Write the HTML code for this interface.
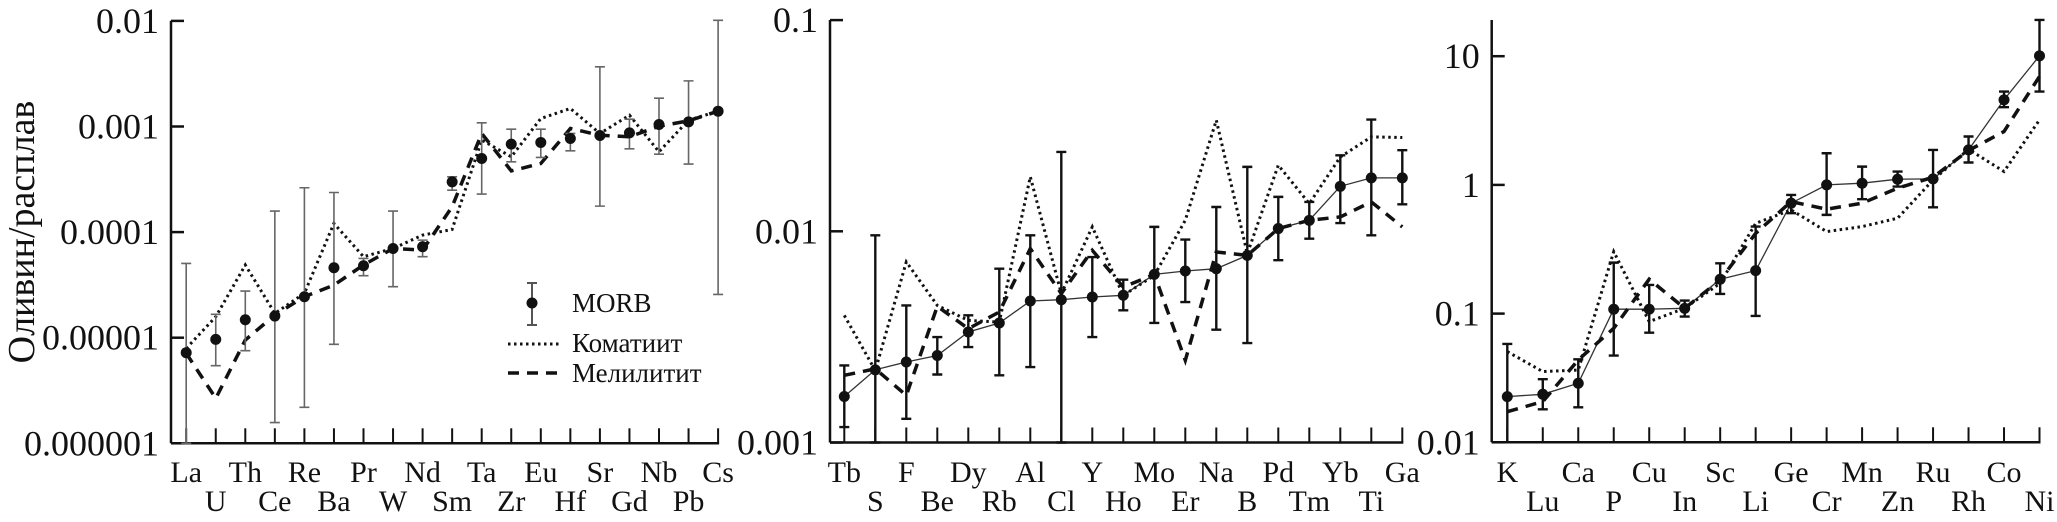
<!DOCTYPE html>
<html><head><meta charset="utf-8">
<style>
html,body{margin:0;padding:0;background:#fff;}
svg{display:block;}
text{font-family:"Liberation Serif",serif;fill:#111;}
</style></head>
<body>
<svg id="chart" width="2057" height="522" viewBox="0 0 2057 522" xmlns="http://www.w3.org/2000/svg">
<text transform="translate(34,232) rotate(-90)" text-anchor="middle" font-size="38">Оливин/расплав</text>
<g>
<line x1="532" y1="283" x2="532" y2="325" stroke="#555" stroke-width="2"/>
<line x1="527" y1="283" x2="537" y2="283" stroke="#555" stroke-width="2"/>
<line x1="527" y1="325" x2="537" y2="325" stroke="#555" stroke-width="2"/>
<circle cx="532" cy="303" r="5.5" fill="#111"/>
<text x="572" y="312" font-size="27">MORB</text>
<line x1="508" y1="344" x2="560" y2="344" stroke="#111" stroke-width="3" stroke-dasharray="2.5 3.5"/>
<text x="572" y="352" font-size="27">Коматиит</text>
<line x1="508" y1="373" x2="560" y2="373" stroke="#111" stroke-width="3.5" stroke-dasharray="11 8"/>
<text x="572" y="382" font-size="27">Мелилитит</text>
</g>
</svg>
<script>
// ---------- Panel 1 data (log10 of partition coefficient) ----------
const cats1 = ["La","U","Th","Ce","Re","Ba","Pr","W","Nd","Sm","Ta","Zr","Eu","Hf","Sr","Gd","Nb","Pb","Cs"];
const morb1 = [-5.142,-5.016,-4.83,-4.795,-4.612,-4.338,-4.319,-4.155,-4.139,-3.524,-3.303,-3.167,-3.151,-3.114,-3.085,-3.06,-2.981,-2.956,-2.855];
const morbHi1 = [-4.297,-4.779,-4.558,-3.801,-3.58,-3.625,-4.249,-3.801,-4.076,-3.476,-2.965,-3.025,-3.025,-3.066,-2.435,-2.931,-2.732,-2.568,-1.994];
const morbLo1 = [-6,-5.265,-5.123,-5.804,-5.659,-5.063,-4.413,-4.517,-4.233,-3.603,-3.64,-3.334,-3.293,-3.23,-3.754,-3.211,-3.262,-3.356,-4.59];
const kom1 = [-5.101,-4.801,-4.312,-4.77,-4.58,-3.918,-4.233,-4.155,-4.028,-3.975,-3.129,-3.287,-2.924,-2.83,-3.066,-2.893,-3.24,-2.94,-2.855];
const mel1 = [-5.148,-5.574,-5.022,-4.785,-4.612,-4.502,-4.312,-4.155,-4.17,-3.76,-3.066,-3.42,-3.35,-3.019,-3.082,-3.098,-2.997,-2.946,-2.855];
const ticks1 = ["0.000001","0.00001","0.0001","0.001","0.01"];
const tickExp1 = [-6,-5,-4,-3,-2];
// ---------- Panel 2 ----------
const cats2 = ["Tb","S","F","Be","Dy","Rb","Al","Cl","Y","Ho","Mo","Er","Na","B","Pd","Tm","Yb","Ti","Ga"];
const morb2 = [-2.782,-2.656,-2.619,-2.588,-2.477,-2.434,-2.33,-2.324,-2.311,-2.303,-2.204,-2.188,-2.177,-2.114,-1.987,-1.948,-1.787,-1.747,-1.747];
const morbHi2 = [-2.635,-2.019,-2.351,-2.501,-2.398,-2.177,-2.019,-1.624,-2.122,-2.229,-1.979,-2.039,-1.885,-1.695,-1.837,-1.861,-1.64,-1.471,-1.616];
const morbLo2 = [-2.927,-3,-2.888,-2.678,-2.548,-2.682,-2.643,-3,-2.501,-2.374,-2.434,-2.335,-2.466,-2.529,-2.137,-2.035,-1.961,-2.019,-1.872];
const kom2 = [-2.398,-2.659,-2.145,-2.351,-2.422,-2.43,-1.742,-2.295,-1.979,-2.303,-2.209,-1.948,-1.474,-2.106,-1.687,-1.869,-1.648,-1.553,-1.556];
const mel2 = [-2.682,-2.651,-2.777,-2.355,-2.461,-2.382,-2.082,-2.295,-2.09,-2.264,-2.204,-2.611,-2.098,-2.114,-1.987,-1.948,-1.932,-1.861,-1.979];
const ticks2 = ["0.001","0.01","0.1"];
const tickExp2 = [-3,-2,-1];
// ---------- Panel 3 ----------
const cats3 = ["K","Lu","Ca","P","Cu","In","Sc","Li","Ge","Cr","Mn","Zn","Ru","Rh","Co","Ni"];
const morb3 = [-1.645,-1.627,-1.541,-0.966,-0.966,-0.959,-0.733,-0.666,-0.142,0.0,0.013,0.044,0.047,0.272,0.661,1.003];
const morbHi3 = [-1.236,-1.51,-1.355,-0.604,-0.777,-0.899,-0.609,-0.324,-0.078,0.246,0.142,0.104,0.272,0.376,0.725,1.282];
const morbLo3 = [-2,-1.744,-1.728,-1.326,-1.148,-1.023,-0.847,-1.018,-0.22,-0.233,-0.111,-0.013,-0.174,0.174,0.604,0.725];
const kom3 = [-1.295,-1.451,-1.438,-0.518,-1.062,-0.959,-0.764,-0.298,-0.194,-0.363,-0.324,-0.259,0.039,0.277,0.104,0.505];
const mel3 = [-1.762,-1.684,-1.36,-1.114,-0.733,-0.959,-0.738,-0.376,-0.13,-0.189,-0.142,-0.026,0.06,0.267,0.415,0.842];
const ticks3 = ["0.01","0.1","1","10"];
const tickExp3 = [-2,-1,0,1];

const NS = "http://www.w3.org/2000/svg";
const svg = document.getElementById("chart");
function mk(tag, attrs, parent){
  const e = document.createElementNS(NS, tag);
  for (const k in attrs) e.setAttribute(k, attrs[k]);
  (parent||svg).appendChild(e);
  return e;
}

function panel(id, cfg, cats, morb, hi, lo, kom, mel, ticks, tickExp){
  const g = mk("g", {});
  
  
  const X = i => cfg.x0 + i*cfg.step;
  const Y = v => cfg.yBottom - (v - cfg.vMin)*cfg.dec;
  const xEnd = X(cats.length-1);
  // axes
  const ya = mk("line", {x1:cfg.ax, y1:cfg.yTop, x2:cfg.ax, y2:cfg.yBottom, stroke:"#111","stroke-width":2.5}, g);
  
  
  const xa = mk("line", {x1:cfg.ax, y1:cfg.yBottom, x2:xEnd+1, y2:cfg.yBottom, stroke:"#111","stroke-width":2.5}, g);
  
  
  // y ticks
  tickExp.forEach((e,i)=>{
    const y = Y(e);
    const t = mk("line", {x1:cfg.ax, y1:y, x2:cfg.ax+13, y2:y, stroke:"#111","stroke-width":2.5}, g);
    
    
    const tx = mk("text", {x:cfg.ax-12, y:y+12, "text-anchor":"end","font-size":36}, g);
    
    
    tx.textContent = ticks[i];
  });
  // x ticks + labels
  cats.forEach((c,i)=>{
    const x = X(i);
    const t = mk("line", {x1:x, y1:cfg.yBottom, x2:x, y2:cfg.yBottom-15, stroke:"#111","stroke-width":2}, g);
    
    
    const tx = mk("text", {x:x, y:(i%2===0)?482:511, "text-anchor":"middle","font-size":30}, g);
    
    
    tx.textContent = c;
  });
  const pts = arr => arr.map((v,i)=>X(i).toFixed(1)+","+Y(v).toFixed(1)).join(" ");
  if (cfg.morbLine){
    const l = mk("polyline", {points:pts(morb), fill:"none", stroke:"#333","stroke-width":1.3}, g);
    
    
  }
  const k = mk("polyline", {points:pts(kom), fill:"none", stroke:"#111","stroke-width":3,"stroke-dasharray":"2.5 3.5"}, g);
  
  
  const m = mk("polyline", {points:pts(mel), fill:"none", stroke:"#111","stroke-width":3.5,"stroke-dasharray":"11 8"}, g);
  
  
  // error bars
  morb.forEach((v,i)=>{
    const x = X(i), yh = Y(hi[i]), yl = Y(lo[i]);
    const eb = mk("path", {d:`M${x},${yh}V${yl}M${x-5},${yh}H${x+5}M${x-5},${yl}H${x+5}`, stroke:cfg.ebColor,"stroke-width":cfg.ebW, fill:"none"}, g);
    
    
    const c = mk("circle", {cx:x, cy:Y(v), r:5.5, fill:"#111"}, g);
    
    
  });
}

panel("panel-1", {ax:171, x0:186.2, step:29.55, yTop:20.7, yBottom:443.3, vMin:-6, dec:105.6, morbLine:false, ebColor:"#666", ebW:1.6},
  cats1, morb1, morbHi1, morbLo1, kom1, mel1, ticks1, tickExp1);
panel("panel-2", {ax:830, x0:844.3, step:31.0, yTop:20, yBottom:442.5, vMin:-3, dec:211.2, morbLine:true, ebColor:"#111", ebW:2.4},
  cats2, morb2, morbHi2, morbLo2, kom2, mel2, ticks2, tickExp2);
panel("panel-3", {ax:1491.7, x0:1507.3, step:35.48, yTop:20, yBottom:442.3, vMin:-2, dec:128.7, morbLine:true, ebColor:"#111", ebW:2.4},
  cats3, morb3, morbHi3, morbLo3, kom3, mel3, ticks3, tickExp3);
</script>
</body></html>
